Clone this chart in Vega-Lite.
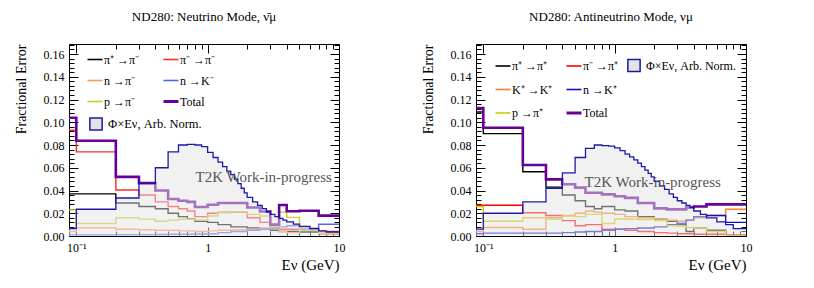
{
"$schema": "https://vega.github.io/schema/vega-lite/v6.json",
"background": "white",
"padding": {"left": 13, "top": 10, "right": 10, "bottom": 5},
"config": {
  "font": "Liberation Serif",
  "view": {"stroke": "#000", "strokeWidth": 1},
  "axis": {"domain": false, "grid": false, "labelFont": "Liberation Serif", "labelFontSize": 12, "labelColor": "#000", "titleFont": "Liberation Serif", "titleFontWeight": "normal", "titleColor": "#000", "tickColor": "#000", "tickWidth": 1},
  "legend": {"labelFont": "Liberation Serif", "labelFontSize": 12, "labelColor": "#000"},
  "title": {"font": "Liberation Serif", "fontWeight": "normal", "fontSize": 13, "color": "#000"}
},
"datasets": {
  "errL": [
    {"e0":0.088,"e1":0.1,"π⁺ →π⁻":0.037,"π⁻ →π⁻":0.093,"n →π⁻":0.004,"n →K⁻":0.001,"p →π⁻":0.023,"Total":0.104},
    {"e0":0.1,"e1":0.2,"π⁺ →π⁻":0.037,"π⁻ →π⁻":0.074,"n →π⁻":0.0073,"n →K⁻":0.001,"p →π⁻":0.011,"Total":0.0837},
    {"e0":0.2,"e1":0.3,"π⁺ →π⁻":0.029,"π⁻ →π⁻":0.0405,"n →π⁻":0.006,"n →K⁻":0.0012,"p →π⁻":0.016,"Total":0.052},
    {"e0":0.3,"e1":0.4,"π⁺ →π⁻":0.026,"π⁻ →π⁻":0.036,"n →π⁻":0.0055,"n →K⁻":0.0012,"p →π⁻":0.0148,"Total":0.0465},
    {"e0":0.4,"e1":0.5,"π⁺ →π⁻":0.024,"π⁻ →π⁻":0.030,"n →π⁻":0.005,"n →K⁻":0.0013,"p →π⁻":0.013,"Total":0.040},
    {"e0":0.5,"e1":0.6,"π⁺ →π⁻":0.020,"π⁻ →π⁻":0.026,"n →π⁻":0.005,"n →K⁻":0.0015,"p →π⁻":0.014,"Total":0.0325},
    {"e0":0.6,"e1":0.7,"π⁺ →π⁻":0.017,"π⁻ →π⁻":0.024,"n →π⁻":0.0045,"n →K⁻":0.0015,"p →π⁻":0.0147,"Total":0.031},
    {"e0":0.7,"e1":0.8,"π⁺ →π⁻":0.015,"π⁻ →π⁻":0.022,"n →π⁻":0.0045,"n →K⁻":0.0015,"p →π⁻":0.0147,"Total":0.030},
    {"e0":0.8,"e1":1.0,"π⁺ →π⁻":0.013,"π⁻ →π⁻":0.017,"n →π⁻":0.004,"n →K⁻":0.0017,"p →π⁻":0.014,"Total":0.0255},
    {"e0":1.0,"e1":1.2,"π⁺ →π⁻":0.012,"π⁻ →π⁻":0.020,"n →π⁻":0.0045,"n →K⁻":0.002,"p →π⁻":0.0176,"Total":0.0275},
    {"e0":1.2,"e1":1.5,"π⁺ →π⁻":0.010,"π⁻ →π⁻":0.021,"n →π⁻":0.005,"n →K⁻":0.003,"p →π⁻":0.0205,"Total":0.029},
    {"e0":1.5,"e1":2.0,"π⁺ →π⁻":0.008,"π⁻ →π⁻":0.021,"n →π⁻":0.0055,"n →K⁻":0.004,"p →π⁻":0.0214,"Total":0.029},
    {"e0":2.0,"e1":2.5,"π⁺ →π⁻":0.007,"π⁻ →π⁻":0.016,"n →π⁻":0.006,"n →K⁻":0.005,"p →π⁻":0.019,"Total":0.025},
    {"e0":2.5,"e1":3.0,"π⁺ →π⁻":0.006,"π⁻ →π⁻":0.012,"n →π⁻":0.007,"n →K⁻":0.006,"p →π⁻":0.0176,"Total":0.0215},
    {"e0":3.0,"e1":3.5,"π⁺ →π⁻":0.005,"π⁻ →π⁻":0.007,"n →π⁻":0.008,"n →K⁻":0.007,"p →π⁻":0.008,"Total":0.010},
    {"e0":3.5,"e1":4.0,"π⁺ →π⁻":0.004,"π⁻ →π⁻":0.006,"n →π⁻":0.004,"n →K⁻":0.008,"p →π⁻":0.021,"Total":0.0272},
    {"e0":4.0,"e1":5.0,"π⁺ →π⁻":0.004,"π⁻ →π⁻":0.006,"n →π⁻":0.003,"n →K⁻":0.009,"p →π⁻":0.0164,"Total":0.0217},
    {"e0":5.0,"e1":7.0,"π⁺ →π⁻":0.0035,"π⁻ →π⁻":0.005,"n →π⁻":0.007,"n →K⁻":0.006,"p →π⁻":0.005,"Total":0.0222},
    {"e0":7.0,"e1":10,"π⁺ →π⁻":0.002,"π⁻ →π⁻":0.004,"n →π⁻":0.002,"n →K⁻":0.0103,"p →π⁻":0.003,"Total":0.0179}
  ],
  "errR": [
    {"e0":0.088,"e1":0.1,"π⁺ →π⁺":0.109,"π⁻ →π⁺":0.027,"K⁺ →K⁺":0.004,"n →K⁺":0.002,"p →π⁺":0.026,"Total":0.1125},
    {"e0":0.1,"e1":0.2,"π⁺ →π⁺":0.090,"π⁻ →π⁺":0.027,"K⁺ →K⁺":0.0075,"n →K⁺":0.0025,"p →π⁺":0.013,"Total":0.0952},
    {"e0":0.2,"e1":0.3,"π⁺ →π⁺":0.0565,"π⁻ →π⁺":0.0205,"K⁺ →K⁺":0.006,"n →K⁺":0.0025,"p →π⁺":0.016,"Total":0.0624},
    {"e0":0.3,"e1":0.4,"π⁺ →π⁺":0.043,"π⁻ →π⁺":0.018,"K⁺ →K⁺":0.016,"n →K⁺":0.0025,"p →π⁺":0.015,"Total":0.0498},
    {"e0":0.4,"e1":0.5,"π⁺ →π⁺":0.036,"π⁻ →π⁺":0.0135,"K⁺ →K⁺":0.018,"n →K⁺":0.003,"p →π⁺":0.0175,"Total":0.0455},
    {"e0":0.5,"e1":0.6,"π⁺ →π⁺":0.031,"π⁻ →π⁺":0.009,"K⁺ →K⁺":0.020,"n →K⁺":0.0035,"p →π⁺":0.017,"Total":0.0425},
    {"e0":0.6,"e1":0.7,"π⁺ →π⁺":0.026,"π⁻ →π⁺":0.010,"K⁺ →K⁺":0.022,"n →K⁺":0.004,"p →π⁺":0.019,"Total":0.038},
    {"e0":0.7,"e1":0.8,"π⁺ →π⁺":0.024,"π⁻ →π⁺":0.010,"K⁺ →K⁺":0.021,"n →K⁺":0.004,"p →π⁺":0.019,"Total":0.038},
    {"e0":0.8,"e1":1.0,"π⁺ →π⁺":0.026,"π⁻ →π⁺":0.006,"K⁺ →K⁺":0.020,"n →K⁺":0.005,"p →π⁺":0.011,"Total":0.0366},
    {"e0":1.0,"e1":1.2,"π⁺ →π⁺":0.023,"π⁻ →π⁺":0.006,"K⁺ →K⁺":0.019,"n →K⁺":0.006,"p →π⁺":0.015,"Total":0.035},
    {"e0":1.2,"e1":1.5,"π⁺ →π⁺":0.022,"π⁻ →π⁺":0.005,"K⁺ →K⁺":0.017,"n →K⁺":0.0065,"p →π⁺":0.015,"Total":0.0335},
    {"e0":1.5,"e1":2.0,"π⁺ →π⁺":0.017,"π⁻ →π⁺":0.004,"K⁺ →K⁺":0.016,"n →K⁺":0.007,"p →π⁺":0.0145,"Total":0.029},
    {"e0":2.0,"e1":2.5,"π⁺ →π⁺":0.015,"π⁻ →π⁺":0.003,"K⁺ →K⁺":0.015,"n →K⁺":0.008,"p →π⁺":0.0135,"Total":0.0243},
    {"e0":2.5,"e1":3.0,"π⁺ →π⁺":0.013,"π⁻ →π⁺":0.0025,"K⁺ →K⁺":0.014,"n →K⁺":0.010,"p →π⁺":0.009,"Total":0.0234},
    {"e0":3.0,"e1":3.5,"π⁺ →π⁺":0.010,"π⁻ →π⁺":0.002,"K⁺ →K⁺":0.013,"n →K⁺":0.011,"p →π⁺":0.0085,"Total":0.0234},
    {"e0":3.5,"e1":4.0,"π⁺ →π⁺":0.004,"π⁻ →π⁺":0.002,"K⁺ →K⁺":0.014,"n →K⁺":0.014,"p →π⁺":0.0075,"Total":0.025},
    {"e0":4.0,"e1":5.0,"π⁺ →π⁺":0.007,"π⁻ →π⁺":0.0015,"K⁺ →K⁺":0.016,"n →K⁺":0.017,"p →π⁺":0.007,"Total":0.026},
    {"e0":5.0,"e1":7.0,"π⁺ →π⁺":0.005,"π⁻ →π⁺":0.0015,"K⁺ →K⁺":0.018,"n →K⁺":0.018,"p →π⁺":0.004,"Total":0.0278},
    {"e0":7.0,"e1":10,"π⁺ →π⁺":0,"π⁻ →π⁺":0.001,"K⁺ →K⁺":0.0235,"n →K⁺":0.012,"p →π⁺":0,"Total":0.0278}
  ],
  "fluxL": [
    {"e0":0.088,"e1":0.1,"f":0.0065},{"e0":0.1,"e1":0.2,"f":0.0235},{"e0":0.2,"e1":0.3,"f":0.0334},{"e0":0.3,"e1":0.4,"f":0.046},
    {"e0":0.4,"e1":0.5,"f":0.060},{"e0":0.5,"e1":0.6,"f":0.074},{"e0":0.6,"e1":0.7,"f":0.080},{"e0":0.7,"e1":0.8,"f":0.0805},
    {"e0":0.8,"e1":0.9,"f":0.080},{"e0":0.9,"e1":1.0,"f":0.0785},{"e0":1.0,"e1":1.1,"f":0.0735},{"e0":1.1,"e1":1.2,"f":0.069},
    {"e0":1.2,"e1":1.3,"f":0.065},{"e0":1.3,"e1":1.4,"f":0.061},{"e0":1.4,"e1":1.5,"f":0.057},{"e0":1.5,"e1":1.6,"f":0.054},
    {"e0":1.6,"e1":1.7,"f":0.050},{"e0":1.7,"e1":1.8,"f":0.046},{"e0":1.8,"e1":1.9,"f":0.042},{"e0":1.9,"e1":2.0,"f":0.038},
    {"e0":2.0,"e1":2.2,"f":0.034},{"e0":2.2,"e1":2.4,"f":0.030},{"e0":2.4,"e1":2.6,"f":0.027},{"e0":2.6,"e1":2.8,"f":0.024},
    {"e0":2.8,"e1":3.0,"f":0.021},{"e0":3.0,"e1":3.25,"f":0.019},{"e0":3.25,"e1":3.5,"f":0.017},{"e0":3.5,"e1":3.75,"f":0.0155},
    {"e0":3.75,"e1":4.0,"f":0.014},{"e0":4.0,"e1":4.5,"f":0.0125},{"e0":4.5,"e1":5.0,"f":0.0105},{"e0":5.0,"e1":6.0,"f":0.0085},
    {"e0":6.0,"e1":7.0,"f":0.0065},{"e0":7.0,"e1":8.0,"f":0.0045},{"e0":8.0,"e1":10,"f":0.0035}
  ],
  "fluxR": [
    {"e0":0.088,"e1":0.1,"f":0.006},{"e0":0.1,"e1":0.2,"f":0.020},{"e0":0.2,"e1":0.3,"f":0.030},{"e0":0.3,"e1":0.4,"f":0.042},
    {"e0":0.4,"e1":0.5,"f":0.0555},{"e0":0.5,"e1":0.6,"f":0.069},{"e0":0.6,"e1":0.7,"f":0.077},{"e0":0.7,"e1":0.8,"f":0.080},
    {"e0":0.8,"e1":0.9,"f":0.0795},{"e0":0.9,"e1":1.0,"f":0.079},{"e0":1.0,"e1":1.1,"f":0.0775},{"e0":1.1,"e1":1.2,"f":0.075},
    {"e0":1.2,"e1":1.3,"f":0.072},{"e0":1.3,"e1":1.4,"f":0.0695},{"e0":1.4,"e1":1.5,"f":0.067},{"e0":1.5,"e1":1.6,"f":0.064},
    {"e0":1.6,"e1":1.7,"f":0.061},{"e0":1.7,"e1":1.8,"f":0.058},{"e0":1.8,"e1":1.9,"f":0.055},{"e0":1.9,"e1":2.0,"f":0.052},
    {"e0":2.0,"e1":2.2,"f":0.048},{"e0":2.2,"e1":2.4,"f":0.044},{"e0":2.4,"e1":2.6,"f":0.041},{"e0":2.6,"e1":2.8,"f":0.037},
    {"e0":2.8,"e1":3.0,"f":0.034},{"e0":3.0,"e1":3.25,"f":0.031},{"e0":3.25,"e1":3.5,"f":0.029},{"e0":3.5,"e1":3.75,"f":0.027},
    {"e0":3.75,"e1":4.0,"f":0.025},{"e0":4.0,"e1":4.5,"f":0.022},{"e0":4.5,"e1":5.0,"f":0.019},{"e0":5.0,"e1":6.0,"f":0.016},
    {"e0":6.0,"e1":7.0,"f":0.0125},{"e0":7.0,"e1":8.0,"f":0.010},{"e0":8.0,"e1":10,"f":0.0065}
  ]
},
"spacing": 137,
"bounds": "flush",
"resolve": {"scale": {"color": "independent", "fill": "independent"}, "legend": {"color": "independent", "fill": "independent"}},
"hconcat": [
{
  "width": 270, "height": 192,
  "title": {"text": "ND280: Neutrino Mode, \u03bd\u0304\u03bc", "anchor": "middle", "frame": "group", "offset": 2, "baseline": "bottom"},
  "resolve": {"axis": {"x": "independent", "y": "independent"}},
  "layer": [
    {
      "data": {"name": "errL"},
      "transform": [
        {"fold": ["π⁺ →π⁻","π⁻ →π⁻","n →π⁻","n →K⁻","p →π⁻","Total"], "as": ["s","v"]},
        {"filter": "datum.s !== 'Total'"},
        {"fold": ["e0","e1"], "as": ["k","E"]}
      ],
      "mark": {"type": "line", "strokeWidth": 1.4, "clip": true},
      "encoding": {
        "x": {"field": "E", "type": "quantitative", "scale": {"type": "log", "domain": [0.088, 10], "nice": false},
          "axis": {"orient": "bottom", "values": [0.1,0.2,0.3,0.4,0.5,0.6,0.7,0.8,0.9,1,2,3,4,5,6,7,8,9,10],
            "labelExpr": "datum.value==0.1 ? '10⁻¹' : datum.value==1 ? '1' : datum.value==10 ? '10' : ''",
            "tickSize": {"condition": {"test": "datum.value==0.1||datum.value==1||datum.value==10", "value": -9}, "value": -5},
            "labelPadding": 15, "labelFlush": false, "labelOverlap": false,
            "title": "Eν (GeV)", "titleAnchor": "end", "titleFontSize": 15, "titlePadding": 0}},
        "y": {"field": "v", "type": "quantitative", "scale": {"domain": [0, 0.1688], "nice": false},
          "axis": {"orient": "left", "values": [0,0.004,0.008,0.012,0.016,0.02,0.024,0.028,0.032,0.036,0.04,0.044,0.048,0.052,0.056,0.06,0.064,0.068,0.072,0.076,0.08,0.084,0.088,0.092,0.096,0.1,0.104,0.108,0.112,0.116,0.12,0.124,0.128,0.132,0.136,0.14,0.144,0.148,0.152,0.156,0.16,0.164,0.168],
            "labelExpr": "abs(datum.value*50-round(datum.value*50))<0.001 ? format(datum.value, '.2f') : ''",
            "tickSize": {"condition": {"test": "abs(datum.value*50-round(datum.value*50))<0.001", "value": -9}, "value": -5},
            "labelPadding": 14, "labelFlush": false, "labelOverlap": false,
            "title": "Fractional Error", "titleAnchor": "end", "titleFontSize": 14, "titlePadding": 15}},
        "color": {"field": "s", "type": "nominal",
          "scale": {"domain": ["π⁺ →π⁻","π⁻ →π⁻","n →π⁻","n →K⁻","p →π⁻","Total"], "range": ["#000000","#ff2a2a","#ff9955","#5566ee","#cccc33","#660099"]},
          "legend": {"orient": "none", "direction": "horizontal", "legendX": 20, "legendY": 9.5, "columns": 2, "columnPadding": 17, "rowPadding": 9, "symbolType": "stroke", "symbolSize": 225, "symbolStrokeWidth": 1.6, "labelFontSize": 12, "labelOffset": 3, "title": null, "padding": 0, "labelLimit": 300,
            "encode": {"symbols": {"update": {"strokeWidth": {"signal": "datum.value === 'Total' ? 3 : 1.6"}}}}}},
        "order": [{"field": "e0", "type": "quantitative"}, {"field": "k", "type": "ordinal"}]
      }
    },
    {
      "data": {"name": "errL"},
      "transform": [
        {"fold": ["π⁺ →π⁻","π⁻ →π⁻","n →π⁻","n →K⁻","p →π⁻","Total"], "as": ["s","v"]},
        {"filter": "datum.s === 'Total'"},
        {"fold": ["e0","e1"], "as": ["k","E"]}
      ],
      "mark": {"type": "line", "strokeWidth": 2.6, "clip": true},
      "encoding": {
        "x": {"field": "E", "type": "quantitative", "scale": {"type": "log", "domain": [0.088, 10], "nice": false}, "axis": null},
        "y": {"field": "v", "type": "quantitative", "scale": {"domain": [0, 0.1688], "nice": false}, "axis": null},
        "color": {"field": "s", "type": "nominal",
          "scale": {"domain": ["π⁺ →π⁻","π⁻ →π⁻","n →π⁻","n →K⁻","p →π⁻","Total"], "range": ["#000000","#ff2a2a","#ff9955","#5566ee","#cccc33","#660099"]}},
        "order": [{"field": "e0", "type": "quantitative"}, {"field": "k", "type": "ordinal"}]
      }
    },
    {
      "data": {"name": "fluxL"},
      "transform": [{"fold": ["e0","e1"], "as": ["k","E"]}],
      "mark": {"type": "area", "fillOpacity": 0.5, "clip": true},
      "encoding": {
        "x": {"field": "E", "type": "quantitative", "scale": {"type": "log", "domain": [0.088, 10], "nice": false}, "axis": null},
        "y": {"field": "f", "type": "quantitative", "scale": {"domain": [0, 0.1688], "nice": false}, "axis": null, "stack": null},
        "fill": {"datum": "Φ×Eν, Arb. Norm.", "type": "nominal", "scale": {"range": ["#e4e4e4"]},
          "legend": {"orient": "none", "legendX": 20, "legendY": 73, "symbolType": "square", "symbolSize": 150, "symbolStrokeColor": "#1a1aaa", "symbolStrokeWidth": 1.5, "labelFontSize": 12.5, "labelOffset": 5, "title": null, "padding": 0, "labelLimit": 300,
            "encode": {"symbols": {"update": {"fill": {"value": "#f2f2f2"}, "fillOpacity": {"value": 1}, "opacity": {"value": 1}, "stroke": {"value": "#1a1aaa"}, "strokeWidth": {"value": 1.5}}}}}},
        "order": [{"field": "e0", "type": "quantitative"}, {"field": "k", "type": "ordinal"}]
      }
    },
    {
      "data": {"name": "fluxL"},
      "transform": [{"fold": ["e0","e1"], "as": ["k","E"]}],
      "mark": {"type": "line", "color": "#1a1aaa", "strokeWidth": 1.3, "clip": true},
      "encoding": {
        "x": {"field": "E", "type": "quantitative", "scale": {"type": "log", "domain": [0.088, 10], "nice": false},
          "axis": {"orient": "top", "values": [0.1,0.2,0.3,0.4,0.5,0.6,0.7,0.8,0.9,1,2,3,4,5,6,7,8,9,10], "labels": false, "title": null,
            "tickSize": {"condition": {"test": "datum.value==0.1||datum.value==1||datum.value==10", "value": -9}, "value": -5}}},
        "y": {"field": "f", "type": "quantitative", "scale": {"domain": [0, 0.1688], "nice": false},
          "axis": {"orient": "right", "values": [0,0.004,0.008,0.012,0.016,0.02,0.024,0.028,0.032,0.036,0.04,0.044,0.048,0.052,0.056,0.06,0.064,0.068,0.072,0.076,0.08,0.084,0.088,0.092,0.096,0.1,0.104,0.108,0.112,0.116,0.12,0.124,0.128,0.132,0.136,0.14,0.144,0.148,0.152,0.156,0.16,0.164,0.168], "labels": false, "title": null,
            "tickSize": {"condition": {"test": "abs(datum.value*50-round(datum.value*50))<0.001", "value": -9}, "value": -5}}},
        "order": [{"field": "e0", "type": "quantitative"}, {"field": "k", "type": "ordinal"}]
      }
    },
    {
      "data": {"values": [{"E": 2.67, "v": 0.0475, "t": "T2K Work-in-progress"}]},
      "mark": {"type": "text", "fontSize": 15, "color": "#555555", "align": "center", "baseline": "alphabetic"},
      "encoding": {
        "x": {"field": "E", "type": "quantitative", "scale": {"type": "log", "domain": [0.088, 10], "nice": false}, "axis": null},
        "y": {"field": "v", "type": "quantitative", "scale": {"domain": [0, 0.1688], "nice": false}, "axis": null},
        "text": {"field": "t"}
      }
    }
  ]
},
{
  "width": 270, "height": 192,
  "title": {"text": "ND280: Antineutrino Mode, \u03bd\u03bc", "anchor": "middle", "frame": "group", "offset": 2, "baseline": "bottom"},
  "resolve": {"axis": {"x": "independent", "y": "independent"}},
  "layer": [
    {
      "data": {"name": "errR"},
      "transform": [
        {"fold": ["π⁺ →π⁺","π⁻ →π⁺","K⁺ →K⁺","n →K⁺","p →π⁺","Total"], "as": ["s","v"]},
        {"filter": "datum.s !== 'Total'"},
        {"fold": ["e0","e1"], "as": ["k","E"]}
      ],
      "mark": {"type": "line", "strokeWidth": 1.4, "clip": true},
      "encoding": {
        "x": {"field": "E", "type": "quantitative", "scale": {"type": "log", "domain": [0.088, 10], "nice": false},
          "axis": {"orient": "bottom", "values": [0.1,0.2,0.3,0.4,0.5,0.6,0.7,0.8,0.9,1,2,3,4,5,6,7,8,9,10],
            "labelExpr": "datum.value==0.1 ? '10⁻¹' : datum.value==1 ? '1' : datum.value==10 ? '10' : ''",
            "tickSize": {"condition": {"test": "datum.value==0.1||datum.value==1||datum.value==10", "value": -9}, "value": -5},
            "labelPadding": 15, "labelFlush": false, "labelOverlap": false,
            "title": "Eν (GeV)", "titleAnchor": "end", "titleFontSize": 15, "titlePadding": 0}},
        "y": {"field": "v", "type": "quantitative", "scale": {"domain": [0, 0.1688], "nice": false},
          "axis": {"orient": "left", "values": [0,0.004,0.008,0.012,0.016,0.02,0.024,0.028,0.032,0.036,0.04,0.044,0.048,0.052,0.056,0.06,0.064,0.068,0.072,0.076,0.08,0.084,0.088,0.092,0.096,0.1,0.104,0.108,0.112,0.116,0.12,0.124,0.128,0.132,0.136,0.14,0.144,0.148,0.152,0.156,0.16,0.164,0.168],
            "labelExpr": "abs(datum.value*50-round(datum.value*50))<0.001 ? format(datum.value, '.2f') : ''",
            "tickSize": {"condition": {"test": "abs(datum.value*50-round(datum.value*50))<0.001", "value": -9}, "value": -5},
            "labelPadding": 14, "labelFlush": false, "labelOverlap": false,
            "title": "Fractional Error", "titleAnchor": "end", "titleFontSize": 14, "titlePadding": 15}},
        "color": {"field": "s", "type": "nominal",
          "scale": {"domain": ["π⁺ →π⁺","π⁻ →π⁺","K⁺ →K⁺","n →K⁺","p →π⁺","Total"], "range": ["#000000","#ff0000","#ff7f2a","#1010cc","#cccc00","#660099"]},
          "legend": {"orient": "none", "direction": "horizontal", "legendX": 21, "legendY": 16, "columns": 2, "columnPadding": 7, "rowPadding": 11.5, "symbolType": "stroke", "symbolSize": 225, "symbolStrokeWidth": 1.6, "labelFontSize": 12, "labelOffset": 3, "title": null, "padding": 0, "labelLimit": 300,
            "encode": {"symbols": {"update": {"strokeWidth": {"signal": "datum.value === 'Total' ? 3 : 1.6"}}}}}},
        "order": [{"field": "e0", "type": "quantitative"}, {"field": "k", "type": "ordinal"}]
      }
    },
    {
      "data": {"name": "errR"},
      "transform": [
        {"fold": ["π⁺ →π⁺","π⁻ →π⁺","K⁺ →K⁺","n →K⁺","p →π⁺","Total"], "as": ["s","v"]},
        {"filter": "datum.s === 'Total'"},
        {"fold": ["e0","e1"], "as": ["k","E"]}
      ],
      "mark": {"type": "line", "strokeWidth": 2.6, "clip": true},
      "encoding": {
        "x": {"field": "E", "type": "quantitative", "scale": {"type": "log", "domain": [0.088, 10], "nice": false}, "axis": null},
        "y": {"field": "v", "type": "quantitative", "scale": {"domain": [0, 0.1688], "nice": false}, "axis": null},
        "color": {"field": "s", "type": "nominal",
          "scale": {"domain": ["π⁺ →π⁺","π⁻ →π⁺","K⁺ →K⁺","n →K⁺","p →π⁺","Total"], "range": ["#000000","#ff0000","#ff7f2a","#1010cc","#cccc00","#660099"]}},
        "order": [{"field": "e0", "type": "quantitative"}, {"field": "k", "type": "ordinal"}]
      }
    },
    {
      "data": {"name": "fluxR"},
      "transform": [{"fold": ["e0","e1"], "as": ["k","E"]}],
      "mark": {"type": "area", "fillOpacity": 0.5, "clip": true},
      "encoding": {
        "x": {"field": "E", "type": "quantitative", "scale": {"type": "log", "domain": [0.088, 10], "nice": false}, "axis": null},
        "y": {"field": "f", "type": "quantitative", "scale": {"domain": [0, 0.1688], "nice": false}, "axis": null, "stack": null},
        "fill": {"datum": "Φ×Eν, Arb. Norm.", "type": "nominal", "scale": {"range": ["#e4e4e4"]},
          "legend": {"orient": "none", "legendX": 151, "legendY": 14.5, "symbolType": "square", "symbolSize": 150, "symbolStrokeColor": "#1a1aaa", "symbolStrokeWidth": 1.5, "labelFontSize": 12, "labelOffset": 5, "title": null, "padding": 0, "labelLimit": 300,
            "encode": {"symbols": {"update": {"fill": {"value": "#f2f2f2"}, "fillOpacity": {"value": 1}, "opacity": {"value": 1}, "stroke": {"value": "#1a1aaa"}, "strokeWidth": {"value": 1.5}}}}}},
        "order": [{"field": "e0", "type": "quantitative"}, {"field": "k", "type": "ordinal"}]
      }
    },
    {
      "data": {"name": "fluxR"},
      "transform": [{"fold": ["e0","e1"], "as": ["k","E"]}],
      "mark": {"type": "line", "color": "#1a1aaa", "strokeWidth": 1.3, "clip": true},
      "encoding": {
        "x": {"field": "E", "type": "quantitative", "scale": {"type": "log", "domain": [0.088, 10], "nice": false},
          "axis": {"orient": "top", "values": [0.1,0.2,0.3,0.4,0.5,0.6,0.7,0.8,0.9,1,2,3,4,5,6,7,8,9,10], "labels": false, "title": null,
            "tickSize": {"condition": {"test": "datum.value==0.1||datum.value==1||datum.value==10", "value": -9}, "value": -5}}},
        "y": {"field": "f", "type": "quantitative", "scale": {"domain": [0, 0.1688], "nice": false},
          "axis": {"orient": "right", "values": [0,0.004,0.008,0.012,0.016,0.02,0.024,0.028,0.032,0.036,0.04,0.044,0.048,0.052,0.056,0.06,0.064,0.068,0.072,0.076,0.08,0.084,0.088,0.092,0.096,0.1,0.104,0.108,0.112,0.116,0.12,0.124,0.128,0.132,0.136,0.14,0.144,0.148,0.152,0.156,0.16,0.164,0.168], "labels": false, "title": null,
            "tickSize": {"condition": {"test": "abs(datum.value*50-round(datum.value*50))<0.001", "value": -9}, "value": -5}}},
        "order": [{"field": "e0", "type": "quantitative"}, {"field": "k", "type": "ordinal"}]
      }
    },
    {
      "data": {"values": [{"E": 1.95, "v": 0.043, "t": "T2K Work-in-progress"}]},
      "mark": {"type": "text", "fontSize": 15, "color": "#555555", "align": "center", "baseline": "alphabetic"},
      "encoding": {
        "x": {"field": "E", "type": "quantitative", "scale": {"type": "log", "domain": [0.088, 10], "nice": false}, "axis": null},
        "y": {"field": "v", "type": "quantitative", "scale": {"domain": [0, 0.1688], "nice": false}, "axis": null},
        "text": {"field": "t"}
      }
    }
  ]
}
]
}
